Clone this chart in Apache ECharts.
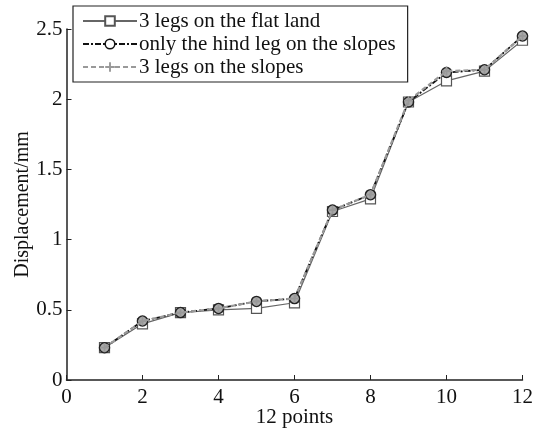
<!DOCTYPE html>
<html>
<head>
<meta charset="utf-8">
<script src="https://cdn.jsdelivr.net/npm/echarts@6/dist/echarts.min.js"></script>
<style>
html,body{margin:0;padding:0;background:#fff;}
#main{width:539px;height:429px;}
</style>
</head>
<body>
<div id="main"></div>
<script>
// 12 measuring points
var points = [1,2,3,4,5,6,7,8,9,10,11,12];
var flatLand  = [0.23,0.40,0.48,0.50,0.51,0.55,1.20,1.29,1.98,2.13,2.20,2.42];
var hindSlope = [0.23,0.42,0.48,0.51,0.56,0.58,1.21,1.32,1.98,2.19,2.21,2.45];
var allSlope  = [0.23,0.42,0.48,0.51,0.56,0.58,1.21,1.32,1.99,2.20,2.21,2.45];
var names = ['3 legs on the flat land','only the hind leg on the slopes','3 legs on the slopes'];

function pairs(vals){
  var out = [];
  for (var i=0;i<points.length;i++){ out.push([points[i],vals[i]]); }
  return out;
}

var serif = 'Liberation Serif';
var myChart = echarts.init(document.getElementById('main'));

var option = {
  animation: false,
  backgroundColor: '#fff',
  grid: {left:66.5, right:16.5, top:29, bottom:49, outerBoundsMode: 'none', containLabel: false},
  legend: {
    orient: 'vertical',
    left: 73, top: 6,
    padding: [4,12,4,9],
    borderColor: '#222', borderWidth: 1.2,
    itemWidth: 54, itemHeight: 12, itemGap: 1,
    textStyle: {fontFamily: serif, fontSize: 21, lineHeight: 22, color: '#111', padding:[0,0,0,-3]},
    data: [
      {name: names[0]},
      {name: names[1], itemStyle: {color: '#fff', borderColor: '#111', borderWidth: 1.5}},
      {name: names[2]}
    ]
  },
  xAxis: {
    type: 'value', min: 0, max: 12, interval: 2,
    name: '12 points', nameLocation: 'middle', nameGap: 27, nameMoveOverlap: false,
    nameTextStyle: {fontFamily: serif, fontSize: 21, color: '#111'},
    axisLine: {onZero:false, lineStyle: {color: '#222', width: 1.5}},
    axisTick: {inside: true, length: 5, lineStyle: {color:'#222'}},
    axisLabel: {fontFamily: serif, fontSize: 21, color: '#111', margin: 7},
    splitLine: {show: false}
  },
  yAxis: {
    type: 'value', min: 0, max: 2.5, interval: 0.5,
    name: 'Displacement/mm', nameLocation: 'middle', nameGap: 34, nameMoveOverlap: false,
    nameTextStyle: {fontFamily: serif, fontSize: 20, color: '#111'},
    axisLine: {show: true, lineStyle: {color: '#222', width: 1.5}},
    axisTick: {show: true, inside: true, length: 5, lineStyle: {color:'#222'}},
    axisLabel: {fontFamily: serif, fontSize: 21, color: '#111', margin: 4},
    splitLine: {show: false}
  },
  series: [
    {
      name: names[0], type: 'line', data: pairs(flatLand),
      symbol: 'rect', symbolSize: 10,
      lineStyle: {color: '#666', width: 1.2},
      itemStyle: {color: '#fff', borderColor: '#555', borderWidth: 1.2},
      z: 2
    },
    {
      name: names[1], type: 'line', data: pairs(hindSlope),
      symbol: 'circle', symbolSize: 10,
      lineStyle: {color: '#111', width: 1.8, type: [6,2,2,2]},
      itemStyle: {color: '#aaa', borderColor: '#222', borderWidth: 1.5},
      z: 3
    },
    {
      name: names[2], type: 'line', data: pairs(allSlope),
      symbol: 'path://M4,0h2v4h4v2h-4v4h-2v-4h-4v-2h4z', symbolSize: 9,
      lineStyle: {color: '#999', width: 2.2, type: [5,3]},
      itemStyle: {color: '#999'},
      z: 4
    }
  ]
};
myChart.setOption(option);
</script>
</body>
</html>
